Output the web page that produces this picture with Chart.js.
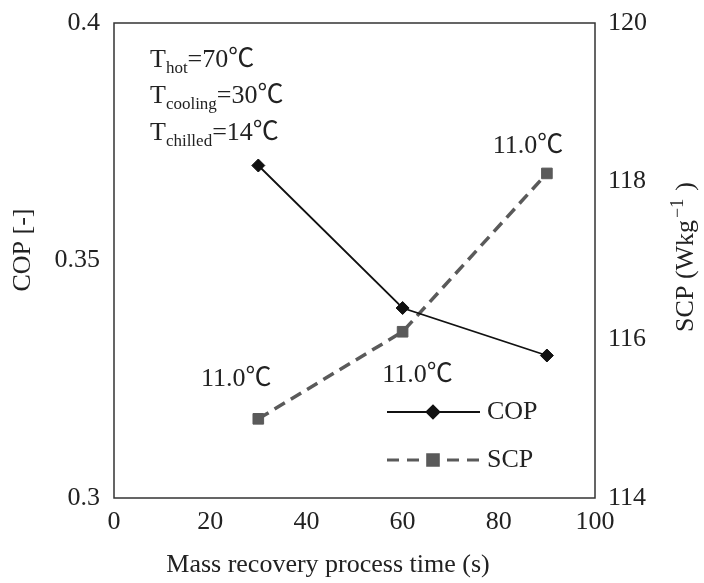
<!DOCTYPE html>
<html><head><meta charset="utf-8">
<script src="https://cdn.jsdelivr.net/npm/chart.js@4"></script>
<style>html,body{margin:0;padding:0;background:#fff}#wrap{width:704px;height:583px}</style>
</head><body><div id="wrap"><canvas id="c" width="704" height="583"></canvas></div>
<script>
const times = [30, 60, 90];
const copValues = [0.370, 0.340, 0.330];
const scpValues = [115.0, 116.1, 118.1];
const xTicks = [0, 20, 40, 60, 80, 100];
const copTicks = [0.3, 0.35, 0.4];
const scpTicks = [114, 116, 118, 120];
const scpLabels = ['11.0℃', '11.0℃', '11.0℃'];
const conditions = [['hot', '=70℃'], ['cooling', '=30℃'], ['chilled', '=14℃']];
const xTitle = 'Mass recovery process time (s)';
const yTitle = 'COP [-]';
const y2TitleParts = ['SCP (Wkg', '−1', ')'];

const FONT = '"Liberation Serif", "Noto Sans CJK SC", serif';
const FS = 26;
const TXT = '#222';
const COP_COLOR = '#111';
const SCP_COLOR = '#5a5a5a';

const boxPlugin = {
  id: 'box',
  afterDraw(chart) {
    const {ctx, chartArea: a, scales} = chart;
    ctx.save();
    ctx.strokeStyle = '#333';
    ctx.lineWidth = 1.5;
    ctx.strokeRect(a.left, a.top, a.right - a.left, a.bottom - a.top);
    ctx.fillStyle = TXT;
    // axis titles
    ctx.font = FS + 'px ' + FONT;
    ctx.textAlign = 'center';
    ctx.textBaseline = 'middle';
    ctx.fillText(xTitle, 328, 565);
    ctx.save();
    ctx.translate(23, 250);
    ctx.rotate(-Math.PI / 2);
    ctx.fillText(yTitle, 0, 0);
    ctx.restore();
    ctx.save();
    ctx.translate(686, 257);
    ctx.rotate(-Math.PI / 2);
    ctx.textAlign = 'left';
    ctx.font = FS + 'px ' + FONT;
    const w0 = ctx.measureText(y2TitleParts[0]).width;
    const w2 = ctx.measureText(y2TitleParts[2]).width;
    ctx.font = '18px ' + FONT;
    const w1 = ctx.measureText(y2TitleParts[1]).width;
    const gap = 8;
    let tx = -(w0 + w1 + w2 + 2 + gap) / 2;
    ctx.font = FS + 'px ' + FONT;
    ctx.fillText(y2TitleParts[0], tx, 0);
    tx += w0 + 2;
    ctx.font = '18px ' + FONT;
    ctx.fillText(y2TitleParts[1], tx, -8);
    tx += w1 + gap;
    ctx.font = FS + 'px ' + FONT;
    ctx.fillText(y2TitleParts[2], tx, 0);
    ctx.restore();
    // conditions text
    ctx.textAlign = 'left';
    ctx.textBaseline = 'alphabetic';
    const baselines = [67, 103, 140];
    conditions.forEach((c, i) => {
      let x = a.left + 36;
      const y = baselines[i];
      ctx.font = FS + 'px ' + FONT;
      ctx.fillText('T', x, y);
      x += ctx.measureText('T').width;
      ctx.font = '17px ' + FONT;
      ctx.fillText(c[0], x, y + 6);
      x += ctx.measureText(c[0]).width;
      ctx.font = FS + 'px ' + FONT;
      ctx.fillText(c[1], x, y);
    });
    // SCP labels
    const xs = scales.x, yr = scales.y2;
    const offs = [[-22, -40], [15, 43], [-19, -27]];
    ctx.font = FS + 'px ' + FONT;
    ctx.textAlign = 'center';
    ctx.textBaseline = 'middle';
    scpLabels.forEach((t, i) => {
      ctx.fillText(t, xs.getPixelForValue(times[i]) + offs[i][0], yr.getPixelForValue(scpValues[i]) + offs[i][1]);
    });
    // legend
    const lx0 = 387, lx1 = 480, mx = 433;
    const items = [
      {y: 412, label: 'COP', color: COP_COLOR, width: 1.8, dash: [], style: 'rectRot', r: 6.5},
      {y: 460, label: 'SCP', color: SCP_COLOR, width: 3, dash: [12, 8], style: 'rect', r: 7.5}
    ];
    items.forEach(it => {
      ctx.beginPath();
      ctx.strokeStyle = it.color;
      ctx.lineWidth = it.width;
      ctx.setLineDash(it.dash);
      ctx.moveTo(lx0, it.y);
      ctx.lineTo(lx1, it.y);
      ctx.stroke();
      ctx.setLineDash([]);
      ctx.fillStyle = it.color;
      Chart.helpers.drawPoint(ctx, {pointStyle: it.style, radius: it.r, borderWidth: 1, rotation: 0}, mx, it.y);
      ctx.fill();
      ctx.fillStyle = TXT;
      ctx.textAlign = 'left';
      ctx.font = FS + 'px ' + FONT;
      ctx.fillText(it.label, 487, it.y);
    });
    ctx.restore();
  }
};

new Chart(document.getElementById('c'), {
  type: 'line',
  data: {
    datasets: [
      {
        label: 'COP', data: times.map((t, i) => ({x: t, y: copValues[i]})), yAxisID: 'y',
        borderColor: COP_COLOR, backgroundColor: COP_COLOR, borderWidth: 1.8,
        pointStyle: 'rectRot', pointRadius: 6.5, pointBorderWidth: 1, tension: 0
      },
      {
        label: 'SCP', data: times.map((t, i) => ({x: t, y: scpValues[i]})), yAxisID: 'y2',
        borderColor: SCP_COLOR, backgroundColor: SCP_COLOR, borderWidth: 3.5, borderDash: [12, 7],
        pointStyle: 'rect', pointRadius: 7.5, pointBorderWidth: 1, tension: 0
      }
    ]
  },
  options: {
    responsive: false, animation: false, devicePixelRatio: 1,
    layout: {padding: {top: 23, left: 0, right: 0, bottom: 0}},
    plugins: {legend: {display: false}, tooltip: {enabled: false}},
    scales: {
      x: {
        type: 'linear', min: 0, max: 100,
        afterBuildTicks: s => { s.ticks = xTicks.map(v => ({value: v})); },
        afterFit: s => { s.height = 85; s.paddingLeft = 0; s.paddingRight = 0; },
        grid: {display: false, drawTicks: false},
        border: {display: false},
        ticks: {color: TXT, font: {family: FONT, size: FS}, padding: 9, maxRotation: 0, callback: v => String(v)}
      },
      y: {
        position: 'left', min: 0.3, max: 0.4,
        afterBuildTicks: s => { s.ticks = copTicks.map(v => ({value: v})); },
        afterFit: s => { s.width = 114; s.paddingTop = 0; s.paddingBottom = 0; },
        grid: {display: false, drawTicks: false},
        border: {display: false},
        ticks: {color: TXT, font: {family: FONT, size: FS}, padding: 14, callback: v => String(v)}
      },
      y2: {
        position: 'right', min: 114, max: 120,
        afterBuildTicks: s => { s.ticks = scpTicks.map(v => ({value: v})); },
        afterFit: s => { s.width = 109; s.paddingTop = 0; s.paddingBottom = 0; },
        grid: {display: false, drawTicks: false},
        border: {display: false},
        ticks: {color: TXT, font: {family: FONT, size: FS}, padding: 13, callback: v => String(v)}
      }
    }
  },
  plugins: [boxPlugin]
});
</script>
</body></html>
